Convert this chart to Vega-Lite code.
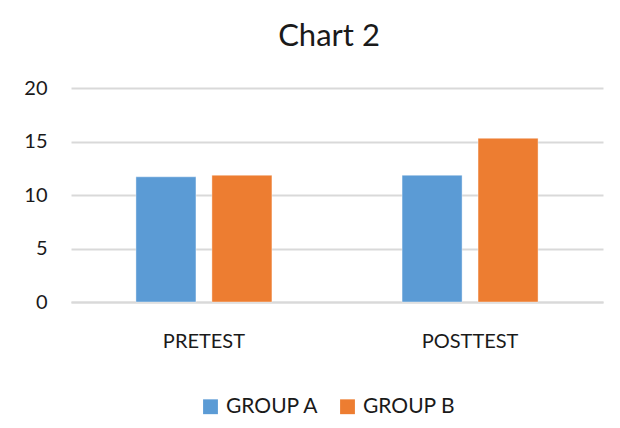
{
  "$schema": "https://vega.github.io/schema/vega-lite/v6.json",
  "autosize": {"type": "none"},
  "width": 532,
  "height": 214,
  "padding": {"left": 71, "top": 88, "right": 17, "bottom": 126},
  "background": "white",
  "title": {"text": "Chart 2", "fontSize": 31, "font": "Lato", "fontWeight": "normal", "color": "#1a1a1a", "offset": 25, "dx": -8, "anchor": "middle"},
  "data": {
    "values": [
      {"test": "PRETEST", "group": "GROUP A", "score": 11.7},
      {"test": "PRETEST", "group": "GROUP B", "score": 11.85},
      {"test": "POSTTEST", "group": "GROUP A", "score": 11.85},
      {"test": "POSTTEST", "group": "GROUP B", "score": 15.3}
    ]
  },
  "mark": {"type": "bar", "stroke": "white", "strokeOpacity": 0.4, "strokeWidth": 1},
  "encoding": {
    "x": {
      "field": "test", "type": "nominal", "sort": ["PRETEST", "POSTTEST"],
      "scale": {"paddingInner": 0.489, "paddingOuter": 0.244},
      "axis": {"title": null, "labelAngle": 0, "ticks": false, "domain": true, "domainColor": "#d9d9d9", "domainWidth": 2, "labelPadding": 29, "labelFontSize": 20, "labelFont": "Lato", "labelColor": "#1a1a1a"}
    },
    "xOffset": {"field": "group", "type": "nominal", "scale": {"paddingInner": 0.21, "paddingOuter": 0}},
    "y": {
      "field": "score", "type": "quantitative",
      "scale": {"domain": [0, 20]},
      "axis": {"title": null, "values": [0, 5, 10, 15, 20], "ticks": false, "domain": false, "gridColor": "#d9d9d9", "gridWidth": 2, "labelPadding": 24, "labelFontSize": 20, "labelFont": "Lato", "labelColor": "#1a1a1a"}
    },
    "color": {
      "field": "group", "type": "nominal",
      "scale": {"domain": ["GROUP A", "GROUP B"], "range": ["#5b9bd5", "#ed7d31"]},
      "legend": {"title": null, "orient": "none", "legendX": 129, "legendY": 308, "direction": "horizontal", "symbolType": "square", "symbolSize": 220, "symbolStrokeWidth": 0, "labelFontSize": 21, "labelFont": "Lato", "labelColor": "#1a1a1a", "labelOffset": 5, "columnPadding": 18}
    }
  },
  "config": {"view": {"stroke": null}}
}
